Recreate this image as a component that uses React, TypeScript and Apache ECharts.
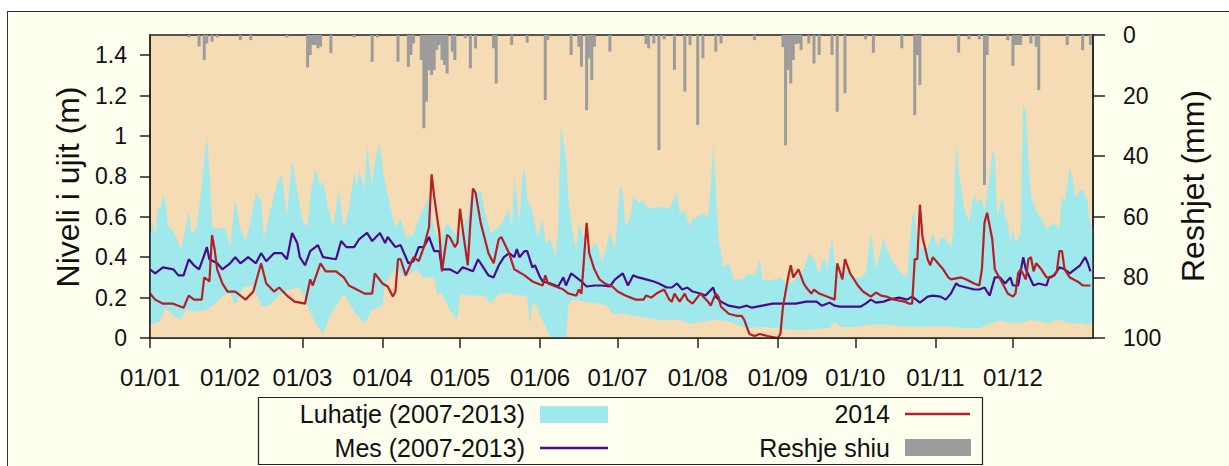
import React, { useEffect, useRef } from "react";
import * as echarts from "echarts";

// ---- axes ----
const MONTH_STARTS = [0, 31, 59, 90, 120, 151, 181, 212, 243, 273, 304, 334];
const MONTH_LABELS = ["01/01", "01/02", "01/03", "01/04", "01/05", "01/06", "01/07", "01/08", "01/09", "01/10", "01/11", "01/12"];
const LEVEL_TICKS = [0, 0.2, 0.4, 0.6, 0.8, 1, 1.2, 1.4];
const RAIN_TICKS = [0, 20, 40, 60, 80, 100];

// ---- series: [day of year, value] ----
const BAND_MAX: [number, number][] = [
  [0,0.52],[1,0.57],[2,0.50],[3,0.64],[4,0.64],[5,0.71],[6,0.67],[7,0.55],[9,0.53],[12,0.44],[13,0.50],[15,0.63],[16,0.52],[18,0.54],[20,0.75],[22,1.0],[23,0.83],[24,0.55],[27,0.54],[29,0.55],[31,0.45],[33,0.69],[35,0.54],[37,0.48],[39,0.58],[41,0.72],[43,0.68],[44,0.49],[46,0.60],[49,0.76],[51,0.81],[53,0.60],[54,0.75],[55,0.88],[57,0.72],[59,0.58],[61,0.55],[62,0.70],[64,0.84],[66,0.75],[67,0.78],[69,0.64],[71,0.55],[73,0.74],[75,0.54],[77,0.64],[79,0.82],[80,0.75],[81,0.83],[83,0.74],[84,0.95],[86,0.75],[87,0.87],[89,0.97],[90,0.83],[93,0.65],[95,0.55],[97,0.59],[99,0.50],[102,0.51],[104,0.59],[108,0.70],[110,0.54],[112,0.47],[115,0.57],[119,0.50],[123,0.60],[124,0.70],[128,0.73],[130,0.60],[132,0.52],[135,0.55],[137,0.59],[139,0.64],[140,0.54],[141,0.80],[143,0.57],[144,0.78],[145,0.85],[146,0.69],[148,0.63],[150,0.50],[152,0.59],[153,0.47],[155,0.49],[157,0.40],[158,0.54],[159,1.05],[161,0.90],[162,0.67],[164,0.49],[165,0.44],[166,0.57],[168,0.49],[170,0.44],[173,0.47],[175,0.37],[178,0.52],[180,0.44],[182,0.76],[183,0.72],[184,0.55],[186,0.60],[187,0.70],[189,0.67],[191,0.68],[193,0.64],[197,0.65],[201,0.64],[204,0.72],[205,0.62],[207,0.63],[209,0.55],[210,0.59],[212,0.60],[214,0.62],[216,0.60],[217,0.74],[218,0.96],[219,0.75],[220,0.49],[222,0.35],[224,0.37],[226,0.29],[229,0.29],[232,0.32],[234,0.31],[236,0.39],[237,0.29],[240,0.285],[244,0.30],[246,0.27],[249,0.28],[253,0.34],[255,0.42],[257,0.39],[259,0.32],[261,0.40],[262,0.34],[264,0.50],[265,0.37],[267,0.32],[270,0.34],[272,0.30],[275,0.30],[277,0.32],[279,0.52],[281,0.34],[282,0.39],[284,0.50],[285,0.44],[288,0.37],[290,0.33],[293,0.30],[295,0.60],[296,0.62],[297,0.47],[299,0.44],[301,0.45],[303,0.52],[305,0.45],[306,0.50],[308,0.49],[310,0.45],[311,0.54],[312,0.98],[313,0.83],[315,0.65],[317,0.57],[319,0.72],[320,0.67],[322,0.69],[323,0.62],[325,0.80],[326,0.93],[327,0.90],[328,0.60],[330,0.70],[331,0.60],[332,0.57],[333,0.47],[334,0.54],[335,0.47],[337,0.52],[338,1.16],[339,1.12],[340,0.87],[341,0.70],[343,0.63],[345,0.59],[347,0.54],[348,0.55],[350,0.57],[352,0.54],[353,0.71],[354,0.67],[356,0.84],[357,0.80],[358,0.70],[359,0.71],[361,0.74],[363,0.67],[364,0.56],[365,0.54]
];

const BAND_MIN: [number, number][] = [
  [0,0.065],[4,0.08],[6,0.15],[9,0.11],[12,0.09],[14,0.14],[18,0.13],[22,0.14],[26,0.18],[28,0.21],[31,0.22],[33,0.16],[36,0.25],[40,0.26],[43,0.16],[46,0.16],[50,0.21],[54,0.24],[58,0.25],[61,0.16],[63,0.10],[65,0.06],[67,0.02],[70,0.12],[75,0.22],[79,0.13],[83,0.07],[86,0.14],[90,0.16],[91,0.27],[95,0.34],[99,0.30],[103,0.34],[106,0.30],[110,0.30],[111,0.22],[113,0.22],[116,0.14],[119,0.09],[120,0.22],[124,0.21],[129,0.21],[132,0.17],[135,0.22],[139,0.22],[143,0.21],[146,0.21],[147,0.07],[148,0.17],[150,0.16],[151,0.11],[153,0.06],[155,0.0],[160,0.0],[161,0.0],[162,0.17],[164,0.19],[169,0.18],[174,0.17],[177,0.16],[179,0.12],[183,0.12],[187,0.11],[192,0.10],[197,0.09],[200,0.09],[205,0.09],[209,0.07],[214,0.08],[219,0.09],[224,0.08],[231,0.05],[237,0.055],[243,0.05],[248,0.04],[253,0.04],[258,0.045],[263,0.05],[265,0.08],[267,0.055],[272,0.055],[279,0.065],[285,0.065],[290,0.06],[296,0.056],[301,0.056],[306,0.06],[311,0.053],[316,0.05],[321,0.05],[325,0.07],[329,0.085],[333,0.076],[337,0.073],[341,0.09],[345,0.08],[348,0.073],[352,0.09],[356,0.073],[360,0.073],[363,0.065],[365,0.073]
];

const MEAN: [number, number][] = [
  [0,0.34],[2,0.32],[5,0.35],[9,0.34],[11,0.31],[13,0.31],[15,0.39],[17,0.36],[19,0.34],[21,0.41],[22,0.45],[23,0.39],[26,0.37],[28,0.34],[31,0.37],[33,0.40],[35,0.37],[38,0.40],[41,0.37],[43,0.42],[45,0.38],[48,0.42],[51,0.42],[53,0.39],[55,0.52],[57,0.47],[58,0.40],[60,0.36],[62,0.43],[65,0.46],[67,0.40],[72,0.39],[74,0.48],[76,0.45],[79,0.45],[81,0.49],[84,0.52],[86,0.48],[89,0.52],[91,0.47],[92,0.50],[95,0.45],[97,0.46],[100,0.37],[102,0.38],[104,0.45],[106,0.45],[108,0.50],[110,0.43],[112,0.43],[113,0.34],[116,0.34],[119,0.32],[121,0.35],[125,0.33],[127,0.39],[129,0.35],[131,0.31],[133,0.30],[135,0.36],[137,0.40],[139,0.42],[141,0.40],[142,0.44],[143,0.40],[145,0.43],[146,0.43],[148,0.35],[149,0.36],[151,0.30],[152,0.28],[155,0.27],[158,0.255],[160,0.30],[161,0.26],[163,0.32],[165,0.30],[167,0.28],[169,0.255],[172,0.26],[175,0.26],[178,0.255],[180,0.29],[183,0.32],[185,0.26],[187,0.31],[189,0.30],[192,0.29],[195,0.28],[197,0.27],[200,0.25],[202,0.25],[204,0.27],[206,0.24],[208,0.25],[210,0.23],[213,0.22],[215,0.21],[218,0.25],[219,0.205],[221,0.18],[224,0.16],[228,0.15],[231,0.16],[233,0.15],[237,0.16],[241,0.17],[245,0.17],[250,0.17],[254,0.18],[258,0.18],[260,0.16],[263,0.175],[265,0.16],[267,0.155],[271,0.155],[275,0.155],[277,0.17],[279,0.19],[281,0.175],[284,0.18],[286,0.19],[290,0.20],[293,0.19],[295,0.205],[298,0.175],[301,0.205],[303,0.21],[306,0.205],[308,0.19],[310,0.22],[312,0.27],[313,0.26],[316,0.25],[319,0.24],[321,0.24],[323,0.25],[325,0.21],[327,0.30],[329,0.30],[331,0.27],[333,0.30],[334,0.26],[336,0.26],[338,0.40],[339,0.34],[342,0.26],[344,0.27],[347,0.26],[348,0.30],[350,0.31],[352,0.35],[354,0.34],[356,0.32],[358,0.34],[360,0.36],[362,0.40],[363,0.37],[364,0.33]
];

const Y2014: [number, number][] = [
  [0,0.22],[2,0.19],[5,0.17],[9,0.17],[13,0.15],[15,0.21],[17,0.19],[20,0.19],[21,0.30],[23,0.28],[24,0.51],[25,0.44],[26,0.34],[28,0.27],[30,0.23],[33,0.23],[36,0.20],[37,0.19],[40,0.23],[43,0.37],[45,0.27],[48,0.23],[50,0.25],[53,0.21],[56,0.18],[60,0.17],[62,0.29],[63,0.26],[66,0.37],[68,0.33],[72,0.33],[75,0.30],[77,0.26],[83,0.22],[86,0.22],[87,0.32],[90,0.27],[92,0.255],[94,0.205],[95,0.23],[96,0.39],[97,0.39],[99,0.31],[102,0.40],[104,0.38],[106,0.45],[108,0.55],[109,0.81],[110,0.70],[112,0.52],[113,0.33],[115,0.51],[116,0.50],[118,0.45],[119,0.47],[120,0.64],[121,0.54],[123,0.36],[124,0.57],[125,0.74],[126,0.72],[128,0.57],[130,0.47],[131,0.42],[133,0.37],[135,0.49],[136,0.50],[139,0.42],[141,0.34],[145,0.31],[148,0.28],[150,0.27],[152,0.26],[153,0.31],[154,0.27],[157,0.255],[160,0.24],[162,0.22],[165,0.21],[166,0.24],[167,0.22],[169,0.57],[170,0.42],[172,0.34],[174,0.29],[176,0.27],[179,0.255],[181,0.23],[184,0.21],[188,0.19],[191,0.19],[192,0.21],[194,0.20],[196,0.22],[199,0.24],[201,0.19],[202,0.18],[203,0.22],[205,0.18],[207,0.22],[208,0.19],[210,0.17],[213,0.22],[216,0.18],[217,0.16],[219,0.22],[220,0.205],[221,0.155],[224,0.12],[227,0.11],[229,0.11],[230,0.09],[232,0.02],[234,0.01],[236,0.02],[239,0.01],[243,0.0],[244,0.02],[245,0.155],[247,0.30],[248,0.36],[249,0.30],[251,0.34],[253,0.27],[254,0.25],[256,0.22],[257,0.24],[259,0.22],[262,0.205],[265,0.19],[266,0.37],[268,0.29],[269,0.39],[271,0.32],[274,0.26],[276,0.23],[279,0.205],[281,0.225],[283,0.21],[285,0.205],[288,0.19],[292,0.18],[294,0.17],[295,0.17],[296,0.39],[297,0.39],[298,0.66],[299,0.50],[301,0.39],[302,0.36],[303,0.40],[305,0.37],[307,0.34],[309,0.30],[310,0.29],[314,0.30],[316,0.29],[319,0.27],[321,0.26],[322,0.34],[323,0.57],[324,0.62],[326,0.49],[327,0.34],[330,0.27],[332,0.22],[334,0.205],[335,0.22],[336,0.32],[337,0.34],[339,0.29],[340,0.39],[341,0.40],[342,0.33],[343,0.37],[345,0.34],[347,0.30],[349,0.30],[351,0.33],[352,0.43],[353,0.43],[354,0.34],[356,0.30],[359,0.28],[361,0.26],[364,0.26]
];

const RAIN: [number, number][] = [
  [15,0.8],[19,3.8],[21,8.3],[22,2.8],[24,2.2],[26,0.8],[35,1.7],[39,1.7],[53,0.8],[61,10.7],[62,6.6],[63,3.3],[64,3.3],[65,4.4],[66,3.8],[70,6.0],[79,0.8],[86,8.8],[88,0.8],[96,8.8],[100,10.5],[101,6.6],[102,2.8],[105,8.3],[106,30.8],[107,22],[108,11.6],[109,13.2],[110,11.6],[111,5.0],[112,3.3],[113,8.3],[114,9.9],[115,12.7],[117,5.5],[118,8.3],[122,1.1],[124,11],[126,4.4],[133,4.4],[134,16],[140,3.3],[146,2.5],[153,21.5],[154,1.6],[163,6.6],[166,3.9],[167,10.5],[169,24.8],[170,7.7],[171,14.9],[172,3.9],[178,5.5],[192,3.0],[193,4.4],[195,2.8],[197,38],[199,1.4],[203,11.5],[207,18.7],[209,3.3],[212,29.7],[214,7.7],[219,5.5],[221,2.8],[234,1.7],[245,4],[246,36.4],[247,11.5],[248,16],[249,8.3],[250,3],[251,2.8],[252,5],[255,2.8],[257,9.4],[259,6.6],[264,6.6],[266,25.3],[269,19.2],[277,1.4],[280,5.8],[291,4.4],[296,26.4],[297,6.6],[298,16.5],[313,5.8],[317,1.4],[321,1.4],[323,49.5],[324,6.6],[332,1.7],[334,10.2],[335,3.3],[336,3.3],[337,3.3],[341,2.8],[343,3.9],[344,18.2],[355,3.3],[361,5.0],[364,3.3]
];

const NAMES = ["Luhatje (2007-2013)", "Mes (2007-2013)", "2014", "Reshje shiu"];

const FONT = '"Liberation Sans", Arial, Helvetica, sans-serif';
const C_BAND = "#9FE8EC";
const C_PLOT = "#F5DCB4";
const C_MEAN = "#4B0A8C";
const C_2014 = "#B52025";
const C_RAIN = "#9C9C9C";
const C_AXIS = "#222222";

function txt(text: string, x: number, y: number, size: number, align: string, rotation = 0) {
  return {
    type: "text",
    x,
    y,
    rotation,
    silent: true,
    style: {
      text,
      fill: "#111",
      font: `${size}px ${FONT}`,
      align,
      verticalAlign: "middle",
      textAlign: align,
      textVerticalAlign: "middle",
    },
  };
}

export default function App() {
  const ref = useRef<HTMLDivElement>(null);
  useEffect(() => {
    document.body.style.margin = "0";
    const chart = echarts.init(ref.current!, null, { renderer: "svg" });
    const axisLineStyle = { color: C_AXIS, width: 1.5 };
    const option: any = {
      animation: false,
      backgroundColor: "transparent",
      grid: {
        left: 150,
        top: 35,
        right: 136,
        bottom: 128,
        show: true,
        backgroundColor: C_PLOT,
        borderColor: C_AXIS,
        borderWidth: 1.5,
      },
      xAxis: {
        type: "value",
        min: 0,
        max: 365,
        z: 10,
        axisLine: { show: true, onZero: false, lineStyle: axisLineStyle },
        axisTick: { show: true, length: 10, customValues: MONTH_STARTS, lineStyle: axisLineStyle },
        axisLabel: {
          customValues: MONTH_STARTS,
          formatter: (v: number) => MONTH_LABELS[MONTH_STARTS.indexOf(Math.round(v))] ?? "",
          fontSize: 24,
          fontFamily: FONT,
          color: "#111",
          margin: 27,
        },
        splitLine: { show: false },
      },
      yAxis: [
        {
          type: "value",
          min: 0,
          max: 1.5,
          z: 10,
          axisLine: { show: true, lineStyle: axisLineStyle },
          axisTick: { show: true, length: 10, customValues: LEVEL_TICKS, lineStyle: axisLineStyle },
          axisLabel: { customValues: LEVEL_TICKS, fontSize: 23, fontFamily: FONT, color: "#111", margin: 23 },
          splitLine: { show: false },
        },
        {
          type: "value",
          min: 0,
          max: 100,
          inverse: true,
          position: "right",
          z: 10,
          axisLine: { show: true, lineStyle: axisLineStyle },
          axisTick: { show: true, length: 12, customValues: RAIN_TICKS, lineStyle: axisLineStyle },
          axisLabel: { customValues: RAIN_TICKS, fontSize: 23, fontFamily: FONT, color: "#111", margin: 30 },
          splitLine: { show: false },
        },
      ],
      series: [
        {
          name: NAMES[0],
          type: "line",
          data: BAND_MAX,
          symbol: "none",
          silent: true,
          lineStyle: { width: 0 },
          areaStyle: { color: C_BAND, opacity: 1 },
          z: 1,
        },
        {
          name: "band-min",
          type: "line",
          data: BAND_MIN,
          symbol: "none",
          silent: true,
          lineStyle: { width: 0 },
          areaStyle: { color: C_PLOT, opacity: 1 },
          z: 1,
        },
        {
          name: NAMES[3],
          type: "bar",
          yAxisIndex: 1,
          data: RAIN,
          barWidth: 3,
          itemStyle: { color: C_RAIN },
          z: 2,
        },
        {
          name: NAMES[1],
          type: "line",
          data: MEAN,
          symbol: "none",
          lineStyle: { color: C_MEAN, width: 2.2 },
          z: 3,
        },
        {
          name: NAMES[2],
          type: "line",
          data: Y2014,
          symbol: "none",
          lineStyle: { color: C_2014, width: 2.2 },
          z: 4,
        },
      ],
      graphic: [
        txt("Niveli i ujit (m)", 68, 187, 32, "center", Math.PI / 2),
        txt("Reshjet (mm)", 1193, 186, 32, "center", Math.PI / 2),
        {
          type: "rect",
          silent: true,
          shape: { x: 258.5, y: 397.5, width: 724, height: 67 },
          style: { fill: "none", stroke: C_AXIS, lineWidth: 1.2 },
        },
        txt(NAMES[0], 525, 414, 25, "right"),
        { type: "rect", silent: true, shape: { x: 540, y: 406, width: 68, height: 17 }, style: { fill: C_BAND } },
        txt(NAMES[1], 525, 448, 25, "right"),
        { type: "line", silent: true, shape: { x1: 540, y1: 448, x2: 608, y2: 448 }, style: { stroke: C_MEAN, lineWidth: 2.5 } },
        txt(NAMES[2], 890, 414, 25, "right"),
        { type: "line", silent: true, shape: { x1: 905, y1: 414, x2: 970, y2: 414 }, style: { stroke: C_2014, lineWidth: 2.5 } },
        txt(NAMES[3], 890, 448, 25, "right"),
        { type: "rect", silent: true, shape: { x: 905, y: 439, width: 66, height: 17 }, style: { fill: C_RAIN } },
      ],
    };
    chart.setOption(option);
    return () => chart.dispose();
  }, []);

  return (
    <div style={{ position: "fixed", left: 0, top: 0, width: 1229, height: 466, background: "#ffffff", overflow: "hidden" }}>
      <div
        style={{
          position: "absolute",
          left: 7,
          top: 11,
          width: 1300,
          height: 500,
          background: "#FFFFF0",
          border: "1px solid #333",
          boxSizing: "border-box",
        }}
      />
      <div ref={ref} style={{ position: "absolute", left: 0, top: 0, width: 1229, height: 466 }} />
    </div>
  );
}
